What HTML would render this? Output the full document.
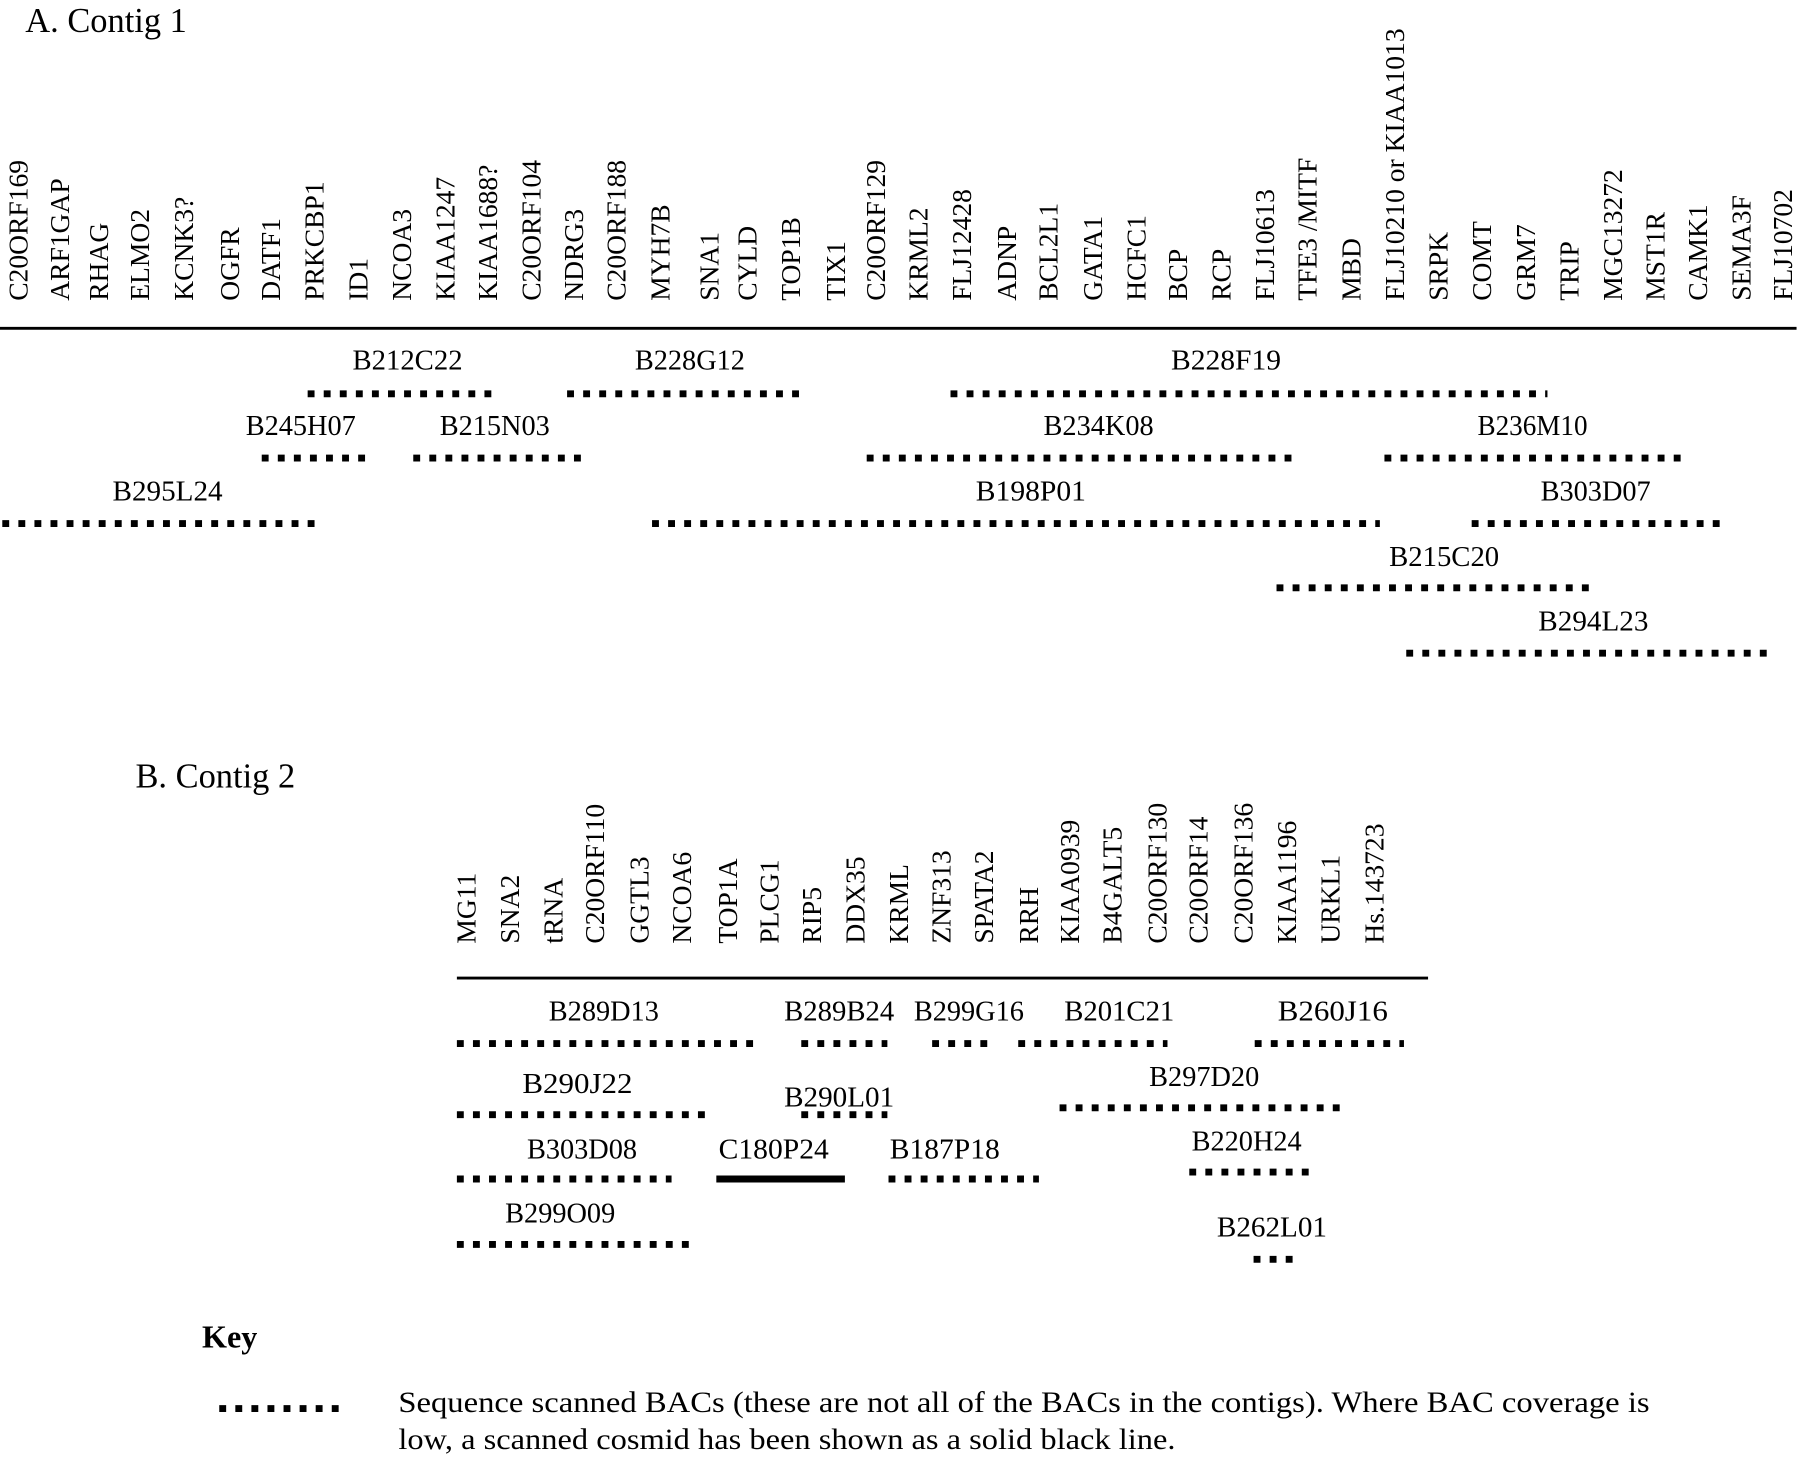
<!DOCTYPE html>
<html><head><meta charset="utf-8"><style>
html,body{margin:0;padding:0;background:#fff;}
svg{display:block;}
text{font-family:"Liberation Serif",serif;fill:#000;}
</style></head><body>
<svg id="fig" width="1800" height="1458" viewBox="0 0 1568 1270" xmlns="http://www.w3.org/2000/svg">
<text x="22" y="28" font-size="30">A. Contig 1</text>
<line x1="0" y1="286" x2="1565" y2="286" stroke="#000" stroke-width="2.5"/>
<text x="118" y="686" font-size="30">B. Contig 2</text>
<line x1="398" y1="852" x2="1244" y2="852" stroke="#000" stroke-width="2.5"/>
<text x="176" y="1174" font-size="28" font-weight="bold">Key</text>
<line x1="191" y1="1227" x2="299" y2="1227" stroke="#000" stroke-width="6" stroke-dasharray="6 8"/>
<text x="347" y="1230" font-size="26" textLength="1090" lengthAdjust="spacingAndGlyphs">Sequence scanned BACs  (these are not all of the BACs in the contigs). Where BAC coverage is</text>
<text x="347" y="1262" font-size="26" textLength="677" lengthAdjust="spacingAndGlyphs">low, a scanned cosmid has been shown as a solid black line.</text>
</svg>
<script>
const genes1 = ["C20ORF169","ARF1GAP","RHAG","ELMO2","KCNK3?","OGFR","DATF1","PRKCBP1","ID1","NCOA3","KIAA1247","KIAA1688?","C20ORF104","NDRG3","C20ORF188","MYH7B","SNA1","CYLD","TOP1B","TIX1","C20ORF129","KRML2","FLJ12428","ADNP","BCL2L1","GATA1","HCFC1","BCP","RCP","FLJ10613","TFE3 /MITF","MBD","FLJ10210 or KIAA1013","SRPK","COMT","GRM7","TRIP","MGC13272","MST1R","CAMK1","SEMA3F","FLJ10702"];
const genePos1 = [16,52,86,122,160,200,236,274,312,350,388,425,463,500,537,575,618,651,689,728,763,800,838,877,913,952,990,1026,1064,1102,1139,1177,1215,1253,1291,1329,1367,1405,1442,1479,1517,1553];
const genes2 = ["MG11","SNA2","tRNA","C20ORF110","GGTL3","NCOA6","TOP1A","PLCG1","RIP5","DDX35","KRML","ZNF313","SPATA2","RRH","KIAA0939","B4GALT5","C20ORF130","C20ORF14","C20ORF136","KIAA1196","URKL1","Hs.143723"];
const genePos2 = [406,444,482,518,557,594,634,670,707,745,783,820,857,896,932,969,1008,1044,1083,1121,1159,1197];
const bacNames1 = ["B212C22","B228G12","B228F19","B245H07","B215N03","B234K08","B236M10","B295L24","B198P01","B303D07","B215C20","B294L23"];
const bacStart1 = [268,494,828,228,360,755,1206,2,568,1282,1112,1225];
const bacEnd1 = [432,700,1348,322,511,1130,1470,282,1202,1503,1391,1540];
const bacLabelX1 = [355,601,1068,262,431,957,1335,146,898,1390,1258,1388];
const bacRow1 = [0,0,0,1,1,1,1,2,2,2,3,4];
const bacNames2 = ["B289D13","B289B24","B299G16","B201C21","B260J16","B290J22","B290L01","B297D20","B303D08","C180P24","B187P18","B220H24","B299O09","B262L01"];
const bacStart2 = [398,698,812,887,1093,398,698,923,398,624,774,1036,398,1092];
const bacEnd2 = [661,773,860,1017,1223,619,773,1167,585,736,905,1143,605,1128];
const bacLabelX2 = [526,731,844,975,1161,503,731,1049,507,674,823,1086,488,1108];
const bacLabelY2 = [889,889,889,889,889,952,964,946,1009,1009,1009,1002,1065,1077];
const bacLineY2 = [909,909,909,909,909,971,971,965,1027,1027,1027,1021,1084,1097];
const bacSolid2 = [0,0,0,0,0,0,0,0,0,1,0,0,0,0];

const NS="http://www.w3.org/2000/svg";
const svg=document.getElementById('fig');
function mk(tag,attrs){const e=document.createElementNS(NS,tag);for(const k in attrs)e.setAttribute(k,attrs[k]);svg.appendChild(e);return e;}
function geneLabel(name,x,bottom){
  const t=mk('text',{x:0,y:0,'font-size':24,transform:`translate(${x+8},${bottom}) rotate(-90)`});
  t.textContent=name;
  
  
}
genes1.forEach((g,i)=>geneLabel(g,genePos1[i],262));
genes2.forEach((g,i)=>geneLabel(g,genePos2[i],822));
function bac(name,x1,x2,lx,ly,lineY,solid){
  const t=mk('text',{x:lx,y:ly,'font-size':25,'text-anchor':'middle',textLength:name.length*13.7,lengthAdjust:'spacingAndGlyphs'});
  t.textContent=name;
  
  
  const l=mk('line',{x1:x1,y1:lineY,x2:x2,y2:lineY,stroke:'#000','stroke-width':6});
  if(!solid)l.setAttribute('stroke-dasharray','6 8');
  
  
}
const rowLabelY1=[322,379,436,493,549], rowLineY1=[343,399,456,512,569];
bacNames1.forEach((n,i)=>bac(n,bacStart1[i],bacEnd1[i],bacLabelX1[i],rowLabelY1[bacRow1[i]],rowLineY1[bacRow1[i]],0));
bacNames2.forEach((n,i)=>bac(n,bacStart2[i],bacEnd2[i],bacLabelX2[i],bacLabelY2[i],bacLineY2[i],bacSolid2[i]));
</script>
</body></html>
